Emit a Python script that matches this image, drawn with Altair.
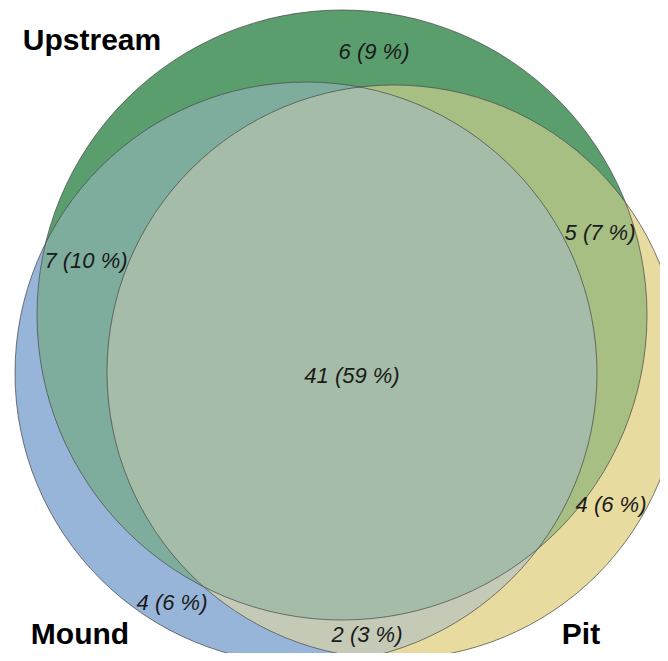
import math
import altair as alt
import pandas as pd

# ---- data -------------------------------------------------------------
sets = ["Upstream", "Mound", "Pit"]
circle_x = [342, 306, 394]
circle_y = [315, 373, 372]
circle_r = [305, 291, 287]

region_text = ["6 (9 %)", "7 (10 %)", "5 (7 %)", "41 (59 %)", "4 (6 %)", "4 (6 %)", "2 (3 %)"]
region_x = [374, 86, 600, 352, 611, 172, 367]
region_y = [59, 268, 240, 383, 512, 610, 642]

label_x = [92, 80, 581]
label_y = [50, 644, 644]

# ---- tables -------------------------------------------------------------
circles = pd.DataFrame({"set": sets, "cx": circle_x, "cy": circle_y, "r": circle_r})
circles["sym"] = (2 * circles["r"]) ** 2  # vega symbol size = bounding-box area

regions = pd.DataFrame({"text": region_text, "x": region_x, "y": region_y})
labels = pd.DataFrame({"text": sets, "x": label_x, "y": label_y})

W, H = 652, 645
xs = alt.Scale(domain=[8, 8 + W], nice=False, zero=False)
ys = alt.Scale(domain=[8, 8 + H], nice=False, zero=False, reverse=True)

enc = dict(
    x=alt.X("cx:Q", scale=xs, axis=None),
    y=alt.Y("cy:Q", scale=ys, axis=None),
    size=alt.Size("sym:Q", scale=None, legend=None),
)


def disc(name, color, opacity):
    return (
        alt.Chart(circles)
        .transform_filter(alt.datum.set == name)
        .mark_circle(color=color, opacity=opacity, strokeWidth=0, clip=True)
        .encode(**enc)
    )


layers = [
    disc("Mound", "#8CB0E6", 1.0),
    disc("Pit", "#DAD6A6", 1.0),
    disc("Upstream", "#5A9E6E", 1.0),
    disc("Pit", "#F6E09A", 0.5),
    disc("Mound", "#A2BACC", 0.5),
]

outline = (
    alt.Chart(circles)
    .mark_point(shape="circle", filled=False, stroke="#4a4a4a", strokeWidth=0.8,
                opacity=0.9, clip=True)
    .encode(**enc)
)

region_labels = (
    alt.Chart(regions)
    .mark_text(font="Liberation Sans", fontSize=22, fontStyle="italic",
               align="center", baseline="alphabetic", color="#1a1a1a")
    .encode(x=alt.X("x:Q", scale=xs, axis=None), y=alt.Y("y:Q", scale=ys, axis=None),
            text="text:N")
)

set_labels = (
    alt.Chart(labels)
    .mark_text(font="Liberation Sans", fontSize=30, fontWeight="bold",
               align="center", baseline="alphabetic", color="#000000")
    .encode(x=alt.X("x:Q", scale=xs, axis=None), y=alt.Y("y:Q", scale=ys, axis=None),
            text="text:N")
)

chart = (
    alt.layer(*layers, outline, region_labels, set_labels)
    .properties(width=W, height=H, autosize=alt.AutoSizeParams(type="none"),
                padding=0, background="white")
    .configure_view(strokeWidth=0)
)

chart.save("out.html", embed_options={"renderer": "svg", "actions": False})
